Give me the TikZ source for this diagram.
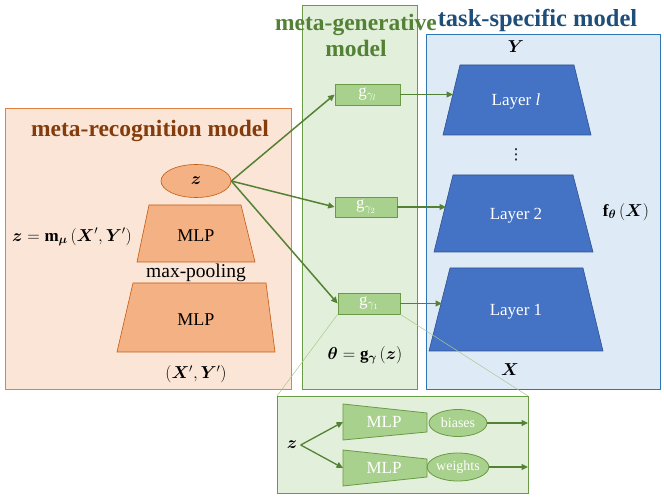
\documentclass[tikz,border=0pt]{standalone}
\usepackage{amsmath,bm}
\usepackage{fontspec}
\setmainfont{Liberation Serif}
\newfontfamily\dejavu{DejaVu Sans}
\usetikzlibrary{shapes.geometric,arrows.meta}
\definecolor{orfill}{HTML}{FBE5D6}
\definecolor{orline}{HTML}{E38140}
\definecolor{orshape}{HTML}{F4B183}
\definecolor{orshapeline}{HTML}{C55A11}
\definecolor{ortitle}{HTML}{843C0C}
\definecolor{grfill}{HTML}{E2EFDA}
\definecolor{grline}{HTML}{6A9A45}
\definecolor{grshape}{HTML}{A9D18E}
\definecolor{grdark}{HTML}{548235}
\definecolor{grthin}{HTML}{A9C98E}
\definecolor{grtitle}{HTML}{538135}
\definecolor{blfill}{HTML}{DEEBF7}
\definecolor{blline}{HTML}{2E75B6}
\definecolor{bltitle}{HTML}{1F4E79}
\definecolor{layfill}{HTML}{4472C4}
\definecolor{layline}{HTML}{2F528F}
\begin{document}
\begin{tikzpicture}[x=1pt,y=-1pt,
  panelor/.style={fill=orfill,draw=orline,line width=0.9pt},
  panelgr/.style={fill=grfill,draw=grline,line width=0.9pt},
  panelbl/.style={fill=blfill,draw=blline,line width=0.9pt},
  orshapestyle/.style={fill=orshape,draw=orshapeline,line width=0.6pt},
  grshapestyle/.style={fill=grshape,draw=grline,line width=0.8pt},
  laystyle/.style={fill=layfill,draw=layline,line width=0.6pt},
  gbox/.style={grshapestyle,rectangle,inner sep=0pt,text=white,font=\fontsize{17}{19}\selectfont},
  ttl/.style={font=\bfseries\fontsize{23.5}{26}\selectfont},
  lbl/.style={font=\fontsize{18}{20}\selectfont},
  laylbl/.style={text=white,font=\fontsize{17}{20}\selectfont},
  mth/.style={font=\fontsize{17}{20}\selectfont},
  conn/.style={draw=grdark,line width=1.5pt,-{Triangle[length=6.5pt,width=6pt]}},
  thin/.style={draw=grthin,line width=0.5pt}]
\useasboundingbox (0,0) rectangle (664,502);
% panels
\draw[panelor] (5,108) rectangle (291,389);
\draw[panelgr] (302,5) rectangle (417,389);
\draw[panelbl] (426,34) rectangle (660,389);
\draw[panelgr] (277,396) rectangle (528,493);
% titles
\node[ttl,text=ortitle] (t1) at (150,131) {meta-recognition model};
\node[ttl,text=grtitle,align=center] (t2) at (356,35) {meta-generative\\model};
\node[ttl,text=bltitle,font=\bfseries\fontsize{24.5}{28}\selectfont] (t3) at (537.5,20) {task-specific model};
% meta-recognition
\node[orshapestyle,ellipse,minimum width=70pt,minimum height=33pt,inner sep=0pt,mth] (z) at (196,181) {$\bm{z}$};
\draw[orshapestyle] (149,205) -- (241,205) -- (255,262) -- (137,262) -- cycle;
\node[lbl] (mlp1) at (196,236) {MLP};
\node[lbl,font=\fontsize{19.5}{22}\selectfont] (mp) at (196,273) {max-pooling};
\draw[orshapestyle] (133,283) -- (266,283) -- (275,352) -- (117,352) -- cycle;
\node[lbl] (mlp2) at (196,320) {MLP};
\node[mth] (xy) at (196,374) {$(\bm{X}',\bm{Y}')$};
\node[mth] (zeq) at (72,237) {$\bm{z}=\mathbf{m}_{\bm{\mu}}\,(\bm{X}',\bm{Y}')$};
% meta-generative
\node[gbox,minimum width=65pt,minimum height=21pt] (gl) at (367.5,94.5) {g$_{\gamma_l}$};
\node[gbox,minimum width=62pt,minimum height=20pt] (g2) at (366,207) {g$_{\gamma_2}$};
\node[gbox,minimum width=62pt,minimum height=21pt] (g1) at (369,303.5) {g$_{\gamma_1}$};
\node[mth] (theta) at (365,355) {$\bm{\theta}=\mathbf{g}_{\bm{\gamma}}\,(\bm{z})$};
% task-specific
\node[mth] (Y) at (516,47) {$\bm{Y}$};
\draw[laystyle] (460,65) -- (574,65) -- (591,135) -- (443,135) -- cycle;
\node[laylbl] (ll) at (516,101) {Layer \textit{l}};
\node[inner sep=0pt,font=\dejavu\fontsize{15}{17}\selectfont] (dots) at (516,155) {⋮};
\draw[laystyle] (453,175) -- (573,175) -- (593,252) -- (434,252) -- cycle;
\node[laylbl] (l2) at (516,216) {Layer 2};
\draw[laystyle] (450,268) -- (583,268) -- (603,351) -- (429,351) -- cycle;
\node[laylbl] (l1) at (516,312) {Layer 1};
\node[mth] (X) at (510,370) {$\bm{X}$};
\node[mth] (f) at (626,212) {$\mathbf{f}_{\bm{\theta}}\,(\bm{X})$};
\coordinate (lle) at (453,94.5);
\coordinate (l2e) at (446,207);
\coordinate (l1e) at (442,303.5);
% connectors
\draw[conn] (z.east) -- (gl.west);
\draw[conn] (z.east) -- (g2.west);
\draw[conn] (z.east) -- (g1.west);
\draw[conn] (gl.east) -- (lle);
\draw[conn] (g2.east) -- (l2e);
\draw[conn] (g1.east) -- (l1e);
% zoom lines
\coordinate (zbl) at (277,396);
\coordinate (zbr) at (528,396);
\draw[thin] (g1.south west) -- (zbl);
\draw[thin] (g1.south east) -- (zbr);
% zoom box contents
\node[mth] (zz) at (292,445) {$\bm{z}$};
\draw[grshapestyle] (343,404) -- (427,413) -- (427,432) -- (343,440) -- cycle;
\node[laylbl] (zm1) at (384,422) {MLP};
\draw[grshapestyle] (343,450) -- (427,459) -- (427,477) -- (343,486) -- cycle;
\node[laylbl] (zm2) at (384,468) {MLP};
\coordinate (zm1w) at (343,422);
\coordinate (zm2w) at (343,468);
\node[grshapestyle,ellipse,minimum width=58pt,minimum height=27pt,inner sep=0pt,text=white,font=\fontsize{14}{16}\selectfont] (bi) at (458,423) {biases};
\node[grshapestyle,ellipse,minimum width=59pt,minimum height=28pt,inner sep=0pt,text=white,font=\fontsize{14}{16}\selectfont] (we) at (458,467) {weights};
\coordinate (bo) at (528,423);
\coordinate (wo) at (528,467);
\draw[conn,line width=1.3pt] (zz.east) -- (zm1w);
\draw[conn,line width=1.3pt] (zz.east) -- (zm2w);
\draw[conn,line width=1.3pt] (bi.east) -- (bo);
\draw[conn,line width=1.3pt] (we.east) -- (wo);
\end{tikzpicture}
\end{document}
